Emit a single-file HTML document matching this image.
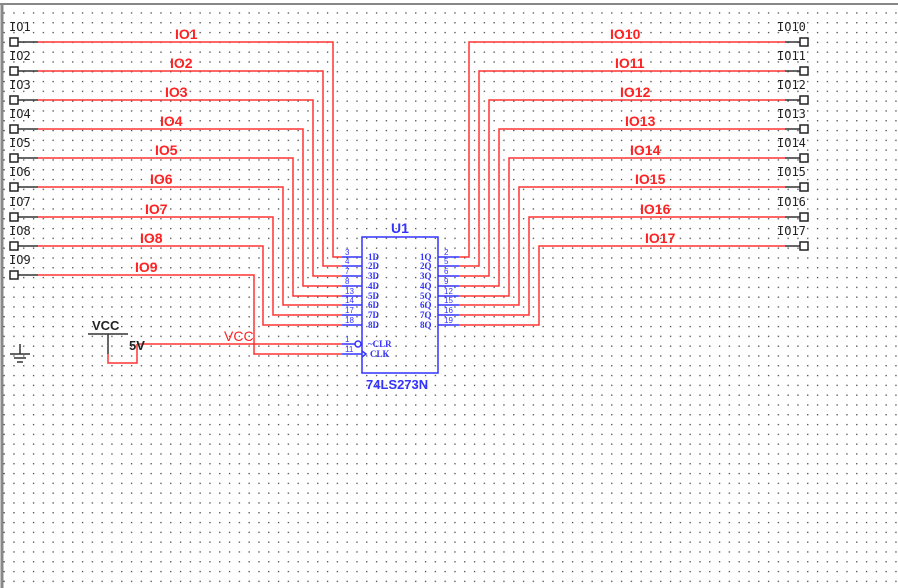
<!DOCTYPE html>
<html><head><meta charset="utf-8"><style>
body{margin:0;background:#fff;}
svg{display:block;}
.lb{font-family:"DejaVu Sans Mono","Liberation Mono",monospace;font-size:12px;fill:#222;}
.rl{font-family:"Liberation Sans",sans-serif;font-size:14px;fill:#f22;font-weight:bold;}
.pn{font-family:"Liberation Sans",sans-serif;font-size:8px;fill:#33f;}
.pl{font-family:"Liberation Serif",serif;font-size:9px;fill:#33f;font-weight:bold;}
</style></head><body>
<svg width="898" height="588" viewBox="0 0 898 588" xmlns="http://www.w3.org/2000/svg">
<defs><pattern id="g" x="3.5" y="2.5" width="9.8" height="9.8" patternUnits="userSpaceOnUse"><rect width="1.3" height="1.3" fill="#444"/></pattern></defs>
<rect x="0" y="0" width="898" height="588" fill="url(#g)"/>
<rect x="0" y="0" width="898" height="5" fill="#fff"/>
<line x1="0" y1="4" x2="898" y2="4" stroke="#888" stroke-width="2"/>
<line x1="2" y1="4" x2="2" y2="588" stroke="#888" stroke-width="3"/>
<g fill="none" stroke-width="1.5">
<g stroke="#333"><path d="M18 42H38M18 71H38M18 100H38M18 129H38M18 158H38M18 187H38M18 217H38M18 246H38M18 275H38"/></g>
<g stroke="#f33">
<path d="M38 42H333V257H342"/>
<path d="M38 71H323V266H342"/>
<path d="M38 100H313V276H342"/>
<path d="M38 129H303V286H342"/>
<path d="M38 158H293V296H342"/>
<path d="M38 187H283V305H342"/>
<path d="M38 217H273V315H342"/>
<path d="M38 246H263V325H342"/>
<path d="M38 275H254V354H342"/>
<path d="M137 344H342"/>
<path d="M108 354V363H137V344"/>
<path d="M785 42H469V257H459"/>
<path d="M785 71H479V266H459"/>
<path d="M785 100H489V276H459"/>
<path d="M785 129H499V286H459"/>
<path d="M785 158H509V296H459"/>
<path d="M785 187H519V305H459"/>
<path d="M785 217H529V315H459"/>
<path d="M785 246H539V325H459"/>
</g>
<g stroke="#333"><path d="M785 42H800M785 71H800M785 100H800M785 129H800M785 158H800M785 187H800M785 217H800M785 246H800"/></g>
<g stroke="#222" fill="#fff">
<rect x="10" y="38" width="8" height="8"/><rect x="10" y="67" width="8" height="8"/><rect x="10" y="96" width="8" height="8"/><rect x="10" y="125" width="8" height="8"/><rect x="10" y="154" width="8" height="8"/><rect x="10" y="183" width="8" height="8"/><rect x="10" y="213" width="8" height="8"/><rect x="10" y="242" width="8" height="8"/><rect x="10" y="271" width="8" height="8"/>
<rect x="800" y="38" width="8" height="8"/><rect x="800" y="67" width="8" height="8"/><rect x="800" y="96" width="8" height="8"/><rect x="800" y="125" width="8" height="8"/><rect x="800" y="154" width="8" height="8"/><rect x="800" y="183" width="8" height="8"/><rect x="800" y="213" width="8" height="8"/><rect x="800" y="242" width="8" height="8"/>
</g>
<g stroke="#33f">
<rect x="362" y="237" width="76" height="136"/>
<path d="M342 257H362M342 266H362M342 276H362M342 286H362M342 296H362M342 305H362M342 315H362M342 325H362M342 354H362M342 344H355"/>
<path d="M438 257H459M438 266H459M438 276H459M438 286H459M438 296H459M438 305H459M438 315H459M438 325H459"/>
<circle cx="358" cy="344" r="3" fill="#fff"/>
<path d="M362 351L366 354L362 357"/>
</g>
<g stroke="#333">
<path d="M88 334H128M108 334V354"/>
<path d="M20 344V354M10 354H30M14 358H26M17 362H23"/>
</g>
</g>
<g class="lb">
<text x="9" y="31">IO1</text><text x="9" y="60">IO2</text><text x="9" y="89">IO3</text><text x="9" y="118">IO4</text><text x="9" y="147">IO5</text><text x="9" y="176">IO6</text><text x="9" y="206">IO7</text><text x="9" y="235">IO8</text><text x="9" y="264">IO9</text>
<text x="777" y="31">IO10</text><text x="777" y="60">IO11</text><text x="777" y="89">IO12</text><text x="777" y="118">IO13</text><text x="777" y="147">IO14</text><text x="777" y="176">IO15</text><text x="777" y="206">IO16</text><text x="777" y="235">IO17</text>
</g>
<g class="rl">
<text x="175" y="39">IO1</text><text x="170" y="68">IO2</text><text x="165" y="97">IO3</text><text x="160" y="126">IO4</text><text x="155" y="155">IO5</text><text x="150" y="184">IO6</text><text x="145" y="214">IO7</text><text x="140" y="243">IO8</text><text x="135" y="272">IO9</text>
<text x="610" y="39">IO10</text><text x="615" y="68">IO11</text><text x="620" y="97">IO12</text><text x="625" y="126">IO13</text><text x="630" y="155">IO14</text><text x="635" y="184">IO15</text><text x="640" y="214">IO16</text><text x="645" y="243">IO17</text>
<text x="224" y="341" font-weight="normal">VCC</text>
</g>
<text x="92" y="330" font-family="Liberation Sans,sans-serif" font-size="13" font-weight="bold" fill="#222">VCC</text>
<text x="129" y="350" font-family="Liberation Sans,sans-serif" font-size="13" font-weight="bold" fill="#222">5V</text>
<text x="391" y="233" font-family="Liberation Sans,sans-serif" font-size="14" font-weight="bold" fill="#33f">U1</text>
<text x="366" y="389" font-family="Liberation Sans,sans-serif" font-size="13" font-weight="bold" fill="#33f">74LS273N</text>
<g class="pn">
<text x="345" y="255">3</text><text x="345" y="264">4</text><text x="345" y="274">7</text><text x="345" y="284">8</text><text x="345" y="294">13</text><text x="345" y="303">14</text><text x="345" y="313">17</text><text x="345" y="323">18</text><text x="345" y="342">1</text><text x="345" y="352">11</text>
<text x="444" y="255">2</text><text x="444" y="264">5</text><text x="444" y="274">6</text><text x="444" y="284">9</text><text x="444" y="294">12</text><text x="444" y="303">15</text><text x="444" y="313">16</text><text x="444" y="323">19</text>
</g>
<g class="pl">
<text x="368" y="260">1D</text><text x="368" y="269">2D</text><text x="368" y="279">3D</text><text x="368" y="289">4D</text><text x="368" y="299">5D</text><text x="368" y="308">6D</text><text x="368" y="318">7D</text><text x="368" y="328">8D</text>
<text x="368" y="347">~CLR</text><text x="370" y="357">CLK</text>
<text x="420" y="260">1Q</text><text x="420" y="269">2Q</text><text x="420" y="279">3Q</text><text x="420" y="289">4Q</text><text x="420" y="299">5Q</text><text x="420" y="308">6Q</text><text x="420" y="318">7Q</text><text x="420" y="328">8Q</text>
</g>
</svg>
</body></html>
